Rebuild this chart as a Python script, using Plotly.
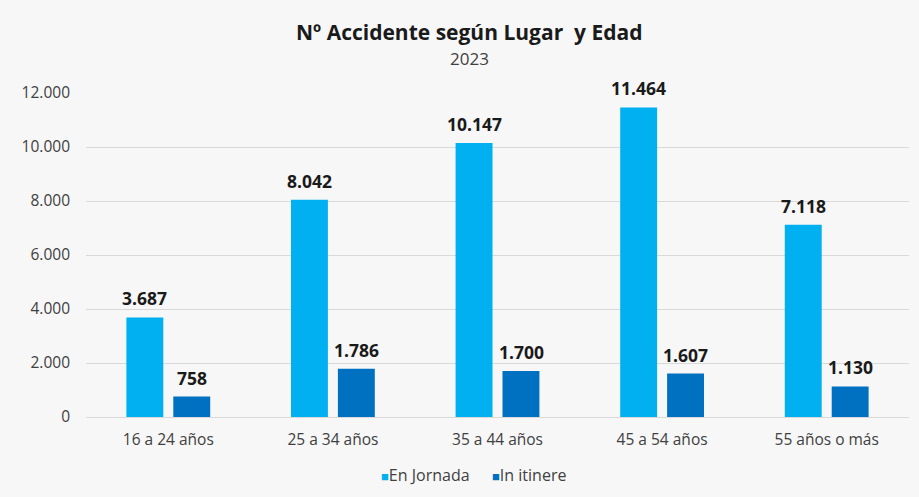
import plotly.graph_objects as go

categories = ["16 a 24 años", "25 a 34 años", "35 a 44 años", "45 a 54 años", "55 años o más"]
en_jornada = [3687, 8042, 10147, 11464, 7118]
in_itinere = [758, 1786, 1700, 1607, 1130]
series_names = ["En Jornada", "In itinere"]
tick_vals = [0, 2000, 4000, 6000, 8000, 10000, 12000]
tick_text = ["0", "2.000", "4.000", "6.000", "8.000", "10.000", "12.000"]

COLORS = ["#00b0f0", "#0070c0"]
FONT = "Open Sans"
L, R, T, B = 86, 10, 93, 80
W, H = 919, 497
PW, PH = W - L - R, H - T - B


def fmt(v):
    return f"{v:,}".replace(",", ".")


def px_y(ypix):
    return (H - B - ypix) / PH


def px_x(xpix):
    return (xpix - L) / PW


fig = go.Figure()
for name, vals, col in zip(series_names, [en_jornada, in_itinere], COLORS):
    fig.add_trace(go.Bar(x=categories, y=vals, name=name, marker_color=col,
                         marker_line_width=0, showlegend=False, hoverinfo="skip"))

# data labels
for vals, shift in [(en_jornada, -23.5), (in_itinere, 23.5)]:
    for c, v in zip(categories, vals):
        fig.add_annotation(x=c, y=v, xref="x", yref="y", text=f"<b>{fmt(v)}</b>",
                           showarrow=False, xshift=shift, yshift=5, yanchor="bottom",
                           font=dict(family=FONT, size=17.5, color="#1a1a1a"))

# title and subtitle
fig.add_annotation(text="<b>Nº Accidente según Lugar  y Edad</b>", xref="paper", yref="paper",
                   x=px_x(469), y=px_y(32), xanchor="center", yanchor="middle", showarrow=False,
                   font=dict(size=21, color="#1a1a1a", family=FONT))
fig.add_annotation(text="2023", xref="paper", yref="paper",
                   x=px_x(469), y=px_y(58.5), xanchor="center", yanchor="middle", showarrow=False,
                   font=dict(size=17, color="#404040", family=FONT))

# legend
for name, col, xp in zip(series_names, COLORS, [379, 490]):
    fig.add_annotation(text=f"<span style='color:{col};font-size:13px'>■</span>{name}",
                       xref="paper", yref="paper", x=px_x(xp), y=px_y(475),
                       xanchor="left", yanchor="middle", showarrow=False,
                       font=dict(size=16, color="#404040", family=FONT))

fig.update_layout(
    width=W, height=H,
    paper_bgcolor="#f7f7f7", plot_bgcolor="#f7f7f7",
    margin=dict(l=L, r=R, t=T, b=B, autoexpand=False),
    barmode="group", bargap=0.43, bargroupgap=0.213,
    font=dict(family=FONT, color="#404040", size=15),
    showlegend=False,
)

fig.update_yaxes(range=[0, 12000], tickvals=tick_vals, ticktext=tick_text, showgrid=True,
                 gridcolor="#d9d9d9", gridwidth=1, zeroline=False, showline=False,
                 ticks="", ticklabelstandoff=15, tickfont=dict(size=15.5, color="#404040"))
fig.update_xaxes(showline=True, linecolor="#d9d9d9", linewidth=1, ticks="",
                 ticklabelstandoff=8, tickfont=dict(size=15.5, color="#404040"))

fig.write_html("out.html", config={"displayModeBar": False},
               post_script="document.body.style.margin='0';")
